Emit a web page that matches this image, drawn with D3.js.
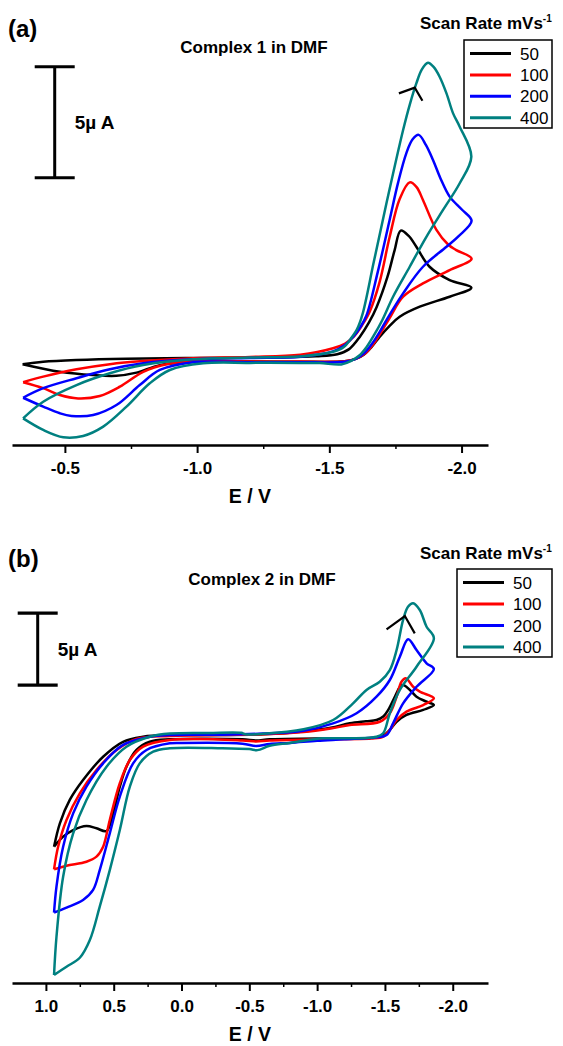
<!DOCTYPE html>
<html><head><meta charset="utf-8">
<script src="https://cdn.jsdelivr.net/npm/d3@7"></script>
<style>
body{margin:0;background:#fff}
svg{display:block}
text{font-family:"Liberation Sans",Arial,Helvetica,sans-serif}
</style>
</head><body>
<svg id="chart" width="563" height="1046"></svg>
<script>
// ---------- DATA ----------
const scanRates = ["50", "100", "200", "400"];
const seriesColors = ["#000000", "#ff0000", "#0000ff", "#008080"];
const ticksA = [-0.5, -1.0, -1.5, -2.0];
const minorTicksA = [-0.75, -1.25, -1.75];
const ticksB = [1.0, 0.5, 0.0, -0.5, -1.0, -1.5, -2.0];
const minorTicksB = [0.75, 0.25, -0.25, -0.75, -1.25, -1.75];

// Panel (a): Complex 1, [E (V), I (µA)]
const cvA_50 = [[-0.340,-0.28],[-0.418,-0.17],[-0.544,-0.09],[-0.733,-0.03],[-1.0,0.0],[-1.3,0.03],[-1.45,0.08],[-1.53,0.17],[-1.575,0.40],[-1.615,0.95],[-1.650,1.60],[-1.679,2.30],[-1.720,3.66],[-1.747,4.86],[-1.770,5.74],[-1.800,5.50],[-1.829,5.01],[-1.879,4.11],[-1.955,3.51],[-2.037,3.17],[-1.955,2.76],[-1.842,2.31],[-1.766,1.86],[-1.728,1.45],[-1.690,0.95],[-1.660,0.50],[-1.630,0.15],[-1.600,-0.04],[-1.558,-0.15],[-1.388,-0.17],[-1.2,-0.16],[-0.985,-0.17],[-0.859,-0.32],[-0.771,-0.66],[-0.695,-0.80],[-0.607,-0.77],[-0.481,-0.62],[-0.340,-0.28]];
const cvA_100 = [[-0.342,-1.09],[-0.418,-0.84],[-0.544,-0.51],[-0.670,-0.28],[-0.796,-0.14],[-0.985,-0.01],[-1.2,0.05],[-1.39,0.15],[-1.514,0.44],[-1.560,0.65],[-1.595,1.00],[-1.625,1.50],[-1.653,2.10],[-1.690,3.42],[-1.728,5.45],[-1.766,7.16],[-1.804,7.91],[-1.830,7.70],[-1.854,7.12],[-1.905,5.77],[-1.950,5.10],[-1.980,4.86],[-2.038,4.47],[-1.955,3.96],[-1.854,3.36],[-1.779,2.76],[-1.728,1.80],[-1.695,1.15],[-1.665,0.60],[-1.635,0.20],[-1.602,-0.03],[-1.558,-0.15],[-1.388,-0.16],[-1.2,-0.16],[-1.023,-0.12],[-0.884,-0.28],[-0.796,-0.62],[-0.708,-1.29],[-0.632,-1.71],[-0.550,-1.82],[-0.481,-1.67],[-0.418,-1.36],[-0.342,-1.09]];
const cvA_200 = [[-0.342,-1.79],[-0.418,-1.36],[-0.544,-0.91],[-0.670,-0.51],[-0.796,-0.24],[-0.985,-0.06],[-1.2,0.0],[-1.39,0.06],[-1.514,0.30],[-1.560,0.60],[-1.590,0.95],[-1.615,1.35],[-1.640,1.90],[-1.683,3.87],[-1.728,6.22],[-1.760,7.90],[-1.791,9.22],[-1.815,9.85],[-1.838,10.05],[-1.865,9.60],[-1.892,8.92],[-1.920,8.10],[-1.955,7.27],[-2.000,6.70],[-2.038,6.18],[-1.990,5.50],[-1.943,5.01],[-1.854,4.11],[-1.779,2.91],[-1.716,1.71],[-1.690,1.17],[-1.662,0.65],[-1.632,0.22],[-1.600,-0.04],[-1.558,-0.17],[-1.388,-0.19],[-1.2,-0.19],[-0.985,-0.19],[-0.859,-0.54],[-0.783,-1.22],[-0.695,-2.12],[-0.607,-2.57],[-0.525,-2.61],[-0.481,-2.49],[-0.418,-2.19],[-0.342,-1.79]];
const cvA_400 = [[-0.342,-2.72],[-0.418,-1.97],[-0.544,-1.22],[-0.670,-0.69],[-0.796,-0.32],[-0.985,-0.06],[-1.2,0.02],[-1.39,0.07],[-1.514,0.28],[-1.555,0.50],[-1.580,0.85],[-1.605,1.30],[-1.625,1.95],[-1.668,4.32],[-1.716,6.97],[-1.779,10.27],[-1.805,11.45],[-1.829,12.37],[-1.850,13.0],[-1.873,13.30],[-1.895,13.10],[-1.917,12.67],[-1.943,11.92],[-1.968,11.02],[-1.993,10.42],[-2.037,9.07],[-1.993,7.87],[-1.930,6.67],[-1.867,5.46],[-1.804,4.11],[-1.741,2.76],[-1.700,1.70],[-1.670,1.05],[-1.641,0.50],[-1.612,0.10],[-1.584,-0.12],[-1.545,-0.29],[-1.464,-0.23],[-1.388,-0.22],[-1.2,-0.22],[-1.023,-0.24],[-0.897,-0.54],[-0.821,-1.14],[-0.733,-2.19],[-0.645,-3.09],[-0.569,-3.51],[-0.494,-3.57],[-0.418,-3.24],[-0.342,-2.72]];

// Panel (b): Complex 2, [E (V), I (µA)]
const cvB_50 = [[0.940,-7.76],[0.897,-6.13],[0.824,-4.51],[0.726,-3.13],[0.578,-1.51],[0.431,-0.47],[0.283,-0.12],[0.086,0.0],[-0.3,0.0],[-0.6,0.05],[-0.9,0.25],[-1.10,0.50],[-1.241,0.81],[-1.360,0.95],[-1.438,1.04],[-1.490,1.30],[-1.524,1.74],[-1.573,2.66],[-1.610,3.33],[-1.634,3.47],[-1.684,3.13],[-1.733,2.66],[-1.807,2.31],[-1.861,2.08],[-1.782,1.74],[-1.659,1.39],[-1.586,0.92],[-1.536,0.35],[-1.487,-0.05],[-1.4,-0.20],[-1.0,-0.25],[-0.65,-0.30],[-0.55,-0.38],[-0.45,-0.30],[0.086,-0.30],[0.234,-0.47],[0.332,-1.04],[0.406,-2.20],[0.455,-3.59],[0.504,-5.44],[0.553,-6.67],[0.627,-6.48],[0.701,-6.32],[0.799,-6.60],[0.873,-7.06],[0.940,-7.76]];
const cvB_100 = [[0.940,-9.33],[0.910,-7.76],[0.848,-5.90],[0.750,-4.05],[0.627,-2.43],[0.479,-1.04],[0.332,-0.28],[0.086,-0.07],[-0.3,0.0],[-0.6,0.05],[-0.9,0.20],[-1.10,0.45],[-1.241,0.69],[-1.462,0.92],[-1.536,1.51],[-1.586,2.66],[-1.622,3.70],[-1.654,3.94],[-1.708,3.35],[-1.757,3.01],[-1.861,2.55],[-1.782,2.08],[-1.659,1.62],[-1.586,1.04],[-1.536,0.35],[-1.487,-0.12],[-1.4,-0.25],[-1.0,-0.30],[-0.65,-0.38],[-0.55,-0.45],[-0.45,-0.38],[0.086,-0.35],[0.283,-0.81],[0.381,-1.74],[0.455,-3.35],[0.529,-5.90],[0.578,-7.76],[0.627,-8.45],[0.701,-8.80],[0.848,-9.08],[0.940,-9.33]];
const cvB_200 = [[0.940,-12.34],[0.922,-10.53],[0.873,-7.76],[0.799,-5.44],[0.701,-3.59],[0.578,-1.97],[0.431,-0.69],[0.234,-0.12],[0.086,0.0],[-0.3,0.02],[-0.6,0.1],[-0.9,0.30],[-1.118,0.81],[-1.291,1.51],[-1.438,2.66],[-1.536,3.82],[-1.610,5.44],[-1.671,6.65],[-1.733,5.90],[-1.807,4.98],[-1.861,4.58],[-1.733,3.35],[-1.634,2.20],[-1.560,0.81],[-1.512,0.0],[-1.438,-0.16],[-1.2,-0.30],[-1.0,-0.40],[-0.8,-0.55],[-0.65,-0.62],[-0.55,-0.76],[-0.45,-0.60],[0.0,-0.55],[0.086,-0.58],[0.258,-1.04],[0.357,-1.97],[0.455,-4.28],[0.529,-6.83],[0.603,-9.38],[0.652,-10.76],[0.726,-11.46],[0.848,-11.99],[0.940,-12.34]];
const cvB_400 = [[0.940,-16.67],[0.922,-14.01],[0.873,-9.84],[0.799,-6.83],[0.701,-4.51],[0.553,-2.20],[0.406,-0.81],[0.234,-0.12],[0.086,0.10],[-0.2,0.14],[-0.44,0.15],[-0.47,0.05],[-0.6,0.08],[-0.9,0.40],[-1.118,1.04],[-1.265,2.20],[-1.364,3.13],[-1.462,3.70],[-1.536,4.51],[-1.586,5.90],[-1.634,7.99],[-1.670,8.90],[-1.708,9.15],[-1.757,8.68],[-1.807,7.52],[-1.861,6.72],[-1.733,4.74],[-1.610,3.13],[-1.536,1.51],[-1.487,0.12],[-1.438,-0.12],[-1.118,-0.23],[-1.039,-0.23],[-0.8,-0.55],[-0.65,-0.75],[-0.56,-1.05],[-0.5,-0.98],[-0.3,-0.92],[0.086,-0.92],[0.209,-1.16],[0.308,-1.97],[0.381,-3.59],[0.455,-6.60],[0.529,-9.38],[0.603,-11.92],[0.676,-14.24],[0.750,-15.47],[0.848,-16.09],[0.940,-16.67]];

// scan direction marks and 5 µA scale bars, in data units
const arrowA = [[-1.763, 11.92], [-1.823, 12.18], [-1.852, 11.59]];
const arrowB = [[-1.512, 7.34], [-1.647, 8.26], [-1.720, 7.06]];
const scaleBarA = [-0.4615, 8.12, 5];
const scaleBarB = [1.0605, 3.47, 5];

// ---------- DRAW ----------
const svg = d3.select("#chart");
const FONT = '"Liberation Sans",Arial,sans-serif';

function panel(cfg) {
  const g = svg.append("g");
  const x = d3.scaleLinear().domain(cfg.xDomain).range([12, 488]);
  const y = d3.scaleLinear().domain([0, 5]).range([cfg.y0, cfg.y0 - 5 * cfg.pxPerUA]);

  // axis
  const ax = g.append("g").attr("transform", `translate(0,${cfg.axisY})`)
    .call(d3.axisBottom(x).tickValues(cfg.ticks).tickSize(8).tickSizeOuter(0).tickPadding(9)
      .tickFormat(d => d.toFixed(1)));
  ax.select(".domain").attr("stroke", "#000").attr("stroke-width", 2.4);
  ax.selectAll(".tick line").attr("stroke", "#000").attr("stroke-width", 2);
  ax.selectAll(".tick text").attr("font-size", 17).attr("font-weight", "bold")
    .attr("font-family", FONT).attr("fill", "#000");
  const mx = g.append("g").attr("transform", `translate(0,${cfg.axisY})`)
    .call(d3.axisBottom(x).tickValues(cfg.minor).tickSize(4).tickSizeOuter(0).tickFormat(""));
  mx.select(".domain").remove();
  mx.selectAll(".tick line").attr("stroke", "#000").attr("stroke-width", 1.5);

  g.append("text").attr("x", 250).attr("y", cfg.axisY + 58).attr("text-anchor", "middle")
    .attr("font-size", 19.5).attr("font-weight", "bold").text("E / V");

  // curves
  const line = d3.line().x(d => x(d[0])).y(d => y(d[1])).curve(d3.curveCatmullRom.alpha(0.5));
  cfg.series.forEach((s, i) => {
    g.append("path").datum(s).attr("d", line).attr("fill", "none")
      .attr("stroke", seriesColors[i]).attr("stroke-width", 2.5).attr("stroke-linejoin", "round");
  });
  // arrow
  g.append("path").datum(cfg.arrow).attr("d", d3.line().x(d => x(d[0])).y(d => y(d[1])))
    .attr("fill", "none").attr("stroke", "#000").attr("stroke-width", 2.2);

  // scale bar
  const sb = cfg.scaleBar;
  const bx = x(sb[0]), by1 = y(sb[1]), by2 = y(sb[1] + sb[2]);
  g.append("line").attr("x1", bx).attr("x2", bx).attr("y1", by1).attr("y2", by2)
    .attr("stroke", "#000").attr("stroke-width", 3);
  [by1, by2].forEach(yy => g.append("line").attr("x1", bx - 20).attr("x2", bx + 20)
    .attr("y1", yy).attr("y2", yy).attr("stroke", "#000").attr("stroke-width", 3.2));
  g.append("text").attr("x", bx + 20).attr("y", (by1 + by2) / 2 + 7)
    .attr("font-size", 19).attr("font-weight", "bold").text("5\u00B5 A");

  // labels
  g.append("text").attr("x", 8).attr("y", cfg.labelY).attr("font-size", 24).attr("font-weight", "bold").text(cfg.label);
  g.append("text").attr("x", cfg.titleX).attr("y", cfg.titleY).attr("text-anchor", "middle")
    .attr("font-size", 17).attr("font-weight", "bold").text(cfg.title);
  const sr = g.append("text").attr("x", 420).attr("y", cfg.scanY).attr("font-size", 17).attr("font-weight", "bold");
  sr.append("tspan").text("Scan Rate mVs");
  sr.append("tspan").attr("font-size", 10).attr("dy", -7).text("-1");

  // legend
  const lg = cfg.legend;
  g.append("rect").attr("x", lg.x).attr("y", lg.y).attr("width", lg.w).attr("height", lg.h)
    .attr("fill", "#fff").attr("stroke", "#000").attr("stroke-width", 1.5);
  scanRates.forEach((r, i) => {
    const yy = lg.y + lg.first + i * lg.step;
    g.append("line").attr("x1", lg.x + 6).attr("x2", lg.x + 47).attr("y1", yy).attr("y2", yy)
      .attr("stroke", seriesColors[i]).attr("stroke-width", 3);
    g.append("text").attr("x", lg.x + 56).attr("y", yy + 6).attr("font-size", 17).text(r);
  });
}

panel({
  xDomain: [-0.3, -2.1], y0: 358, pxPerUA: 22.2, axisY: 445,
  ticks: ticksA, minor: minorTicksA,
  series: [cvA_50, cvA_100, cvA_200, cvA_400], arrow: arrowA, scaleBar: scaleBarA,
  label: "(a)", labelY: 37, title: "Complex 1 in DMF", titleX: 254, titleY: 53,
  scanY: 29, legend: {x: 464, y: 40, w: 88, h: 88, first: 13.5, step: 21.4}
});
panel({
  xDomain: [1.25, -2.26], y0: 735, pxPerUA: 14.4, axisY: 983,
  ticks: ticksB, minor: minorTicksB,
  series: [cvB_50, cvB_100, cvB_200, cvB_400], arrow: arrowB, scaleBar: scaleBarB,
  label: "(b)", labelY: 567, title: "Complex 2 in DMF", titleX: 262, titleY: 585,
  scanY: 559, legend: {x: 457, y: 569, w: 95, h: 88, first: 13.5, step: 21.5}
});
</script>
</body></html>
